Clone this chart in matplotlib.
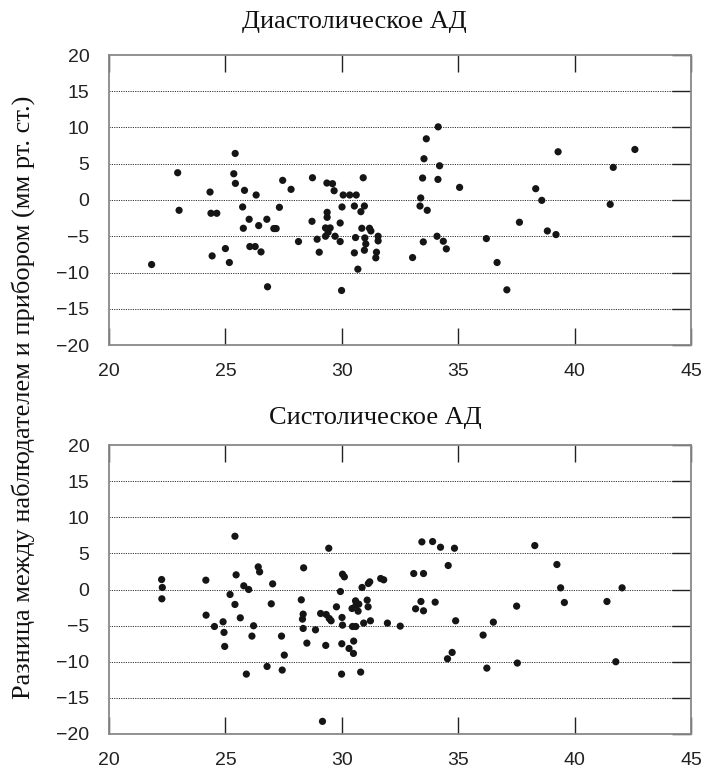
import matplotlib
matplotlib.use("Agg")
import matplotlib.pyplot as plt

# ── Data: BMI (x) vs observer-device difference (y) ────────────────────────
dia_x = [21.83, 22.95, 23.01, 24.34, 24.38, 24.63, 24.43, 25.00, 25.17, 25.42,
         25.36, 25.43, 25.82, 25.74, 26.32, 26.02, 25.77, 26.43, 26.78, 27.08,
         27.18, 26.05, 26.28, 26.53, 26.81, 27.46, 27.82, 27.32, 28.14, 28.74,
         28.72, 28.94, 29.03, 29.36, 29.60, 29.67, 29.37, 29.37, 29.30, 29.50,
         29.41, 29.30, 29.71, 29.93, 29.93, 29.99, 30.01, 30.06, 30.34, 30.62,
         30.92, 30.54, 30.97, 30.82, 30.86, 31.19, 31.25, 30.59, 30.99, 31.03,
         30.97, 30.54, 30.69, 31.56, 31.56, 31.49, 31.46,
         33.04, 34.14, 33.63, 33.53, 34.20, 33.47, 34.13, 35.06, 33.39, 33.36,
         33.67, 34.09, 33.50, 34.36, 34.49, 36.21, 36.67, 37.09, 37.63, 38.33,
         38.59, 38.83, 39.20, 39.29, 41.66, 41.53, 42.59]
dia_y = [-8.90, 3.76, -1.42, 1.10, -1.83, -1.83, -7.71, -6.70, -8.62, 6.42,
         3.62, 2.29, 1.33, -0.96, 0.69, -2.66, -3.90, -3.53, -2.66, -3.94,
         -3.94, -6.42, -6.42, -7.16, -11.97, 2.71, 1.47, -1.01, -5.73, 3.07,
         -2.94, -5.41, -7.20, 2.34, 2.25, 1.28, -1.70, -2.39, -3.85, -3.85,
         -4.45, -5.00, -5.00, -5.73, -3.17, -12.48, -0.96, 0.69, 0.69, 0.69,
         3.07, -0.83, -0.83, -1.61, -3.90, -3.90, -4.27, -5.18, -5.23, -6.06,
         -6.93, -7.29, -9.54, -5.00, -5.64, -7.20, -7.98,
         -7.94, 10.09, 8.44, 5.69, 4.72, 3.03, 2.84, 1.74, 0.28, -0.83,
         -1.42, -5.00, -5.78, -5.69, -6.74, -5.32, -8.62, -12.39, -3.07, 1.56,
         -0.05, -4.27, -4.77, 6.65, 4.50, -0.60, 6.97]

sys_x = [22.26, 22.29, 22.27, 24.16, 24.17, 24.53, 24.90, 24.94, 24.97, 25.41,
         25.46, 25.20, 25.41, 25.79, 26.00, 25.64, 26.21, 26.14, 25.90, 26.41,
         26.47, 27.03, 26.97, 27.41, 27.53, 26.79, 27.44, 28.36, 28.26, 28.34,
         28.31, 28.34, 28.50, 28.87, 29.17, 29.44, 29.09, 29.33, 29.46, 29.54,
         29.31, 29.77, 29.94, 30.03, 30.11, 30.01, 30.03, 30.00, 29.99, 30.31,
         30.50, 30.51, 30.46, 30.60, 30.44, 30.59, 30.61, 30.70, 30.73, 30.87,
         31.09, 31.13, 31.14, 31.20, 30.94, 31.23, 30.81, 31.67, 31.80, 31.96,
         32.51,
         33.09, 33.51, 33.44, 33.90, 34.24, 34.84, 34.57, 33.40, 33.17, 33.51,
         34.01, 34.89, 34.74, 34.54, 36.07, 36.51, 36.23, 37.51, 37.54, 38.29,
         39.24, 39.40, 39.56, 41.39, 42.04, 41.77]
sys_y = [1.38, 0.28, -1.29, 1.29, -3.55, -5.12, -4.47, -5.94, -7.88, 7.37,
         2.03, -0.69, -2.07, 0.51, 0.00, -3.92, -5.02, -6.45, -11.71, 3.13,
         2.44, 0.78, -1.98, -6.45, -9.08, -10.65, -11.15, 3.00, -1.43, -3.41,
         -4.10, -5.39, -7.42, -5.58, -18.25, 5.71, -3.32, -3.46, -4.01, -4.33,
         -7.74, -2.40, -0.28, 2.12, 1.75, -3.87, -4.93, -7.51, -11.71, -8.16,
         -8.85, -7.14, -5.12, -5.12, -2.63, -1.57, -2.17, -3.00, -2.03, 0.28,
         -1.47, -2.40, 0.83, 1.06, -4.65, -4.33, -11.43, 1.52, 1.34, -4.65,
         -5.07,
         2.21, 2.21, 6.59, 6.64, 5.85, 5.71, 3.32, -1.66, -2.67, -2.95,
         -1.75, -4.33, -8.71, -9.59, -6.31, -4.52, -10.88, -2.30, -10.18, 6.08,
         3.46, 0.23, -1.80, -1.66, 0.23, -10.00]

titles = ["Диастолическое АД", "Систолическое АД"]
ylabel = "Разница между наблюдателем и прибором (мм рт. ст.)"
x_ticks = [20, 25, 30, 35, 40, 45]
y_ticks = [20, 15, 10, 5, 0, -5, -10, -15, -20]

W, H = 705, 769
fig = plt.figure(figsize=(W / 100, H / 100), dpi=100)

serif = ["Liberation Serif", "DejaVu Serif"]
sans = ["Liberation Sans", "DejaVu Sans"]

# axes boxes in pixels: left, top, right, bottom
boxes = [(109, 55, 691, 345), (109, 445, 691, 734)]
title_pos = [(354, 22), (375, 418)]

for (l, t, r, b), (tx, ty), title, xs, ys in zip(
        boxes, title_pos, titles, [dia_x, sys_x], [dia_y, sys_y]):
    ax = fig.add_axes([l / W, 1 - b / H, (r - l) / W, (b - t) / H])
    ax.scatter(xs, ys, s=27, color="#151515", edgecolors="none", zorder=3)
    ax.set_xlim(20, 45)
    ax.set_ylim(-20, 20)
    ax.set_xticks(x_ticks)
    ax.set_yticks(y_ticks)
    ax.set_yticklabels([str(v).replace("-", "\u2212") for v in y_ticks])
    for v in y_ticks[1:-1]:
        ax.axhline(v, color="#333333", lw=0.7, ls=(0, (1.2, 1.2)),
                   xmax=0.975, zorder=1)
    ax.tick_params(axis="x", direction="in", top=True, bottom=True,
                   length=12, width=1.0, color="#222222", pad=13)
    ax.tick_params(axis="y", direction="in", left=False, right=True,
                   length=14, width=1.0, color="#222222", pad=14)
    for lab in ax.get_xticklabels() + ax.get_yticklabels():
        lab.set_family(sans)
        lab.set_fontsize(14)
        lab.set_color("#222222")
    for sp in ax.spines.values():
        sp.set_color("#888888")
        sp.set_linewidth(1.3)
    fig.text(tx / W, 1 - ty / H, title, ha="center", va="center",
             family=serif, fontsize=19, color="#111111")

fig.text(23 / W, 1 - 397 / H, ylabel, rotation=90, ha="center", va="center",
         family=serif, fontsize=19, color="#111111")

fig.savefig("out.png", dpi=100)
